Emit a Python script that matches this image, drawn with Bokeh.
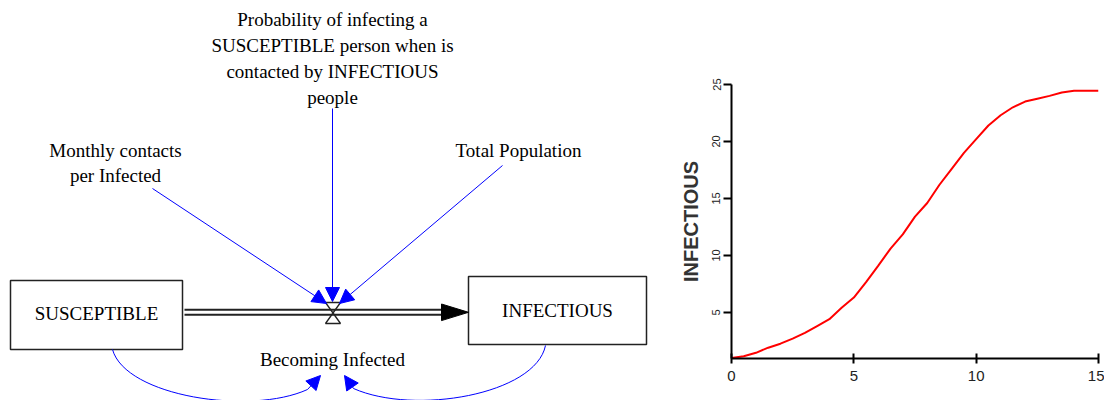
from bokeh.plotting import figure
from bokeh.models import Range1d, FixedTicker, Arrow, NormalHead, ColumnDataSource
from bokeh.layouts import row
from bokeh.embed import file_html
from bokeh.resources import INLINE
from bokeh.core.properties import value

# ---------------- data: simulated INFECTIOUS over months ----------------
months = [0, 0.5, 1, 1.5, 2, 2.5, 3, 3.5, 4, 4.5, 5, 5.5, 6, 6.5, 7, 7.5,
          8, 8.5, 9, 9.5, 10, 10.5, 11, 11.5, 12, 12.5, 13, 13.5, 14, 14.5, 15]
infectious = [1.0, 1.15, 1.45, 1.9, 2.25, 2.7, 3.2, 3.8, 4.4, 5.4, 6.3, 7.65,
              9.1, 10.6, 11.85, 13.4, 14.6, 16.2, 17.6, 19.0, 20.2, 21.4, 22.3,
              23.0, 23.5, 23.75, 24.0, 24.3, 24.45, 24.45, 24.45]
x_ticks = [0, 5, 10, 15]
y_ticks = [5, 10, 15, 20, 25]
y_title = "INFECTIOUS"

# ---------------- diagram texts ----------------
stock_names = ["SUSCEPTIBLE", "INFECTIOUS"]
flow_name = "Becoming Infected"
prob_lines = ["Probability of infecting a", "SUSCEPTIBLE person when is",
              "contacted by INFECTIOUS", "people"]
contacts_lines = ["Monthly contacts", "per Infected"]
population_name = "Total Population"

# ---------------- diagram layout (pixel positions) ----------------
stock_boxes = {"left": [10, 468], "right": [182, 646], "top": [280, 276], "bottom": [349, 344]}
stock_text_pos = {"x": [96, 557], "y": [313, 310]}
prob_pos = {"x": [332, 332, 332, 332], "y": [19, 45, 71, 97]}
contacts_pos = {"x": [115, 115], "y": [150, 175]}
population_pos = (518, 150)
flow_text_pos = (332, 359)
pipe = {"x0": 184, "x1": 441, "y": [309.3, 314.3]}
flow_head = {"tip": (468, 311.8), "base_x": 441, "half": 8.3}
valve = {"x": [325, 340, 325, 340, 325], "y": [302, 302, 323, 323, 302]}
links = [((332, 108), (332, 301)), ((152, 188), (326, 303)), ((502, 165), (339, 303))]
arcs = [
    dict(x0=112, y0=349, cx0=125, cy0=396, cx1=250, cy1=415, x1=307, y1=389, tip=(320, 375)),
    dict(x0=545, y0=345, cx0=535, cy0=394, cx1=414, cy1=415, x1=353, y1=388, tip=(344, 375)),
]

SERIF = "Liberation Serif"
BLUE = "#0000ff"
LEFT_W = 650

d = figure(width=LEFT_W, height=400, x_range=Range1d(0, LEFT_W), y_range=Range1d(400, 0),
           output_backend="svg", toolbar_location=None,
           x_axis_location=None, y_axis_location=None, min_border=0)
d.frame_align = False
d.outline_line_color = None
d.xgrid.visible = False
d.ygrid.visible = False

# stocks
d.quad(left=stock_boxes["left"], right=stock_boxes["right"], top=stock_boxes["top"],
       bottom=stock_boxes["bottom"], fill_color="white", line_color="#222222", line_width=1.5)
d.text(x=stock_text_pos["x"], y=stock_text_pos["y"], text=stock_names,
       text_font=value(SERIF), text_font_size="19px", text_align="center",
       text_baseline="middle", text_color="black")

# flow pipe
for yy in pipe["y"]:
    d.line([pipe["x0"], pipe["x1"]], [yy, yy], line_color="#222222", line_width=2)
tx, ty = flow_head["tip"]
d.patch([flow_head["base_x"], tx, flow_head["base_x"]],
        [ty - flow_head["half"], ty, ty + flow_head["half"]],
        fill_color="black", line_color="black")
d.line(valve["x"], valve["y"], line_color="#222222", line_width=1.3)
d.text(x=[flow_text_pos[0]], y=[flow_text_pos[1]], text=[flow_name],
       text_font=value(SERIF), text_font_size="19px", text_align="center",
       text_baseline="middle", text_color="black")

# auxiliaries
d.text(x=prob_pos["x"], y=prob_pos["y"], text=prob_lines,
       text_font=value(SERIF), text_font_size="19px", text_align="center",
       text_baseline="middle", text_color="black")
d.text(x=contacts_pos["x"], y=contacts_pos["y"], text=contacts_lines,
       text_font=value(SERIF), text_font_size="19px", text_align="center",
       text_baseline="middle", text_color="black")
d.text(x=[population_pos[0]], y=[population_pos[1]], text=[population_name],
       text_font=value(SERIF), text_font_size="19px", text_align="center",
       text_baseline="middle", text_color="black")

# connector links
for (sx, sy), (ex, ey) in links:
    d.add_layout(Arrow(end=NormalHead(size=14, fill_color=BLUE, line_color=BLUE, line_width=1),
                       x_start=sx, y_start=sy, x_end=ex, y_end=ey,
                       line_color=BLUE, line_width=1))
for a in arcs:
    d.bezier(x0=[a["x0"]], y0=[a["y0"]], x1=[a["x1"]], y1=[a["y1"]],
             cx0=[a["cx0"]], cy0=[a["cy0"]], cx1=[a["cx1"]], cy1=[a["cy1"]],
             line_color=BLUE, line_width=1)
    d.add_layout(Arrow(end=NormalHead(size=14, fill_color=BLUE, line_color=BLUE, line_width=1),
                       x_start=a["x1"], y_start=a["y1"], x_end=a["tip"][0], y_end=a["tip"][1],
                       line_color=BLUE, line_width=1))

# ---------------- right chart ----------------
src = ColumnDataSource(data=dict(month=months, infectious=infectious))
c = figure(width=1104 - LEFT_W, height=400, x_range=Range1d(0, 15), y_range=Range1d(0.95, 25),
           output_backend="svg", toolbar_location=None,
           min_border_left=731 - LEFT_W, min_border_right=6, min_border_top=84, min_border_bottom=42)
c.frame_align = False
c.outline_line_color = None
c.xgrid.visible = False
c.ygrid.visible = False
c.line("month", "infectious", source=src, line_color="#ff0000", line_width=2)

xa = c.xaxis[0]
ya = c.yaxis[0]
xa.ticker = FixedTicker(ticks=x_ticks)
ya.ticker = FixedTicker(ticks=y_ticks)
for ax in (xa, ya):
    ax.axis_line_width = 2
    ax.axis_line_color = "black"
    ax.major_tick_line_width = 2
    ax.major_tick_line_color = "black"
    ax.minor_tick_line_color = None
    ax.major_label_text_font = "Liberation Sans"
    ax.major_label_text_color = "#222222"
xa.major_tick_in = 5
xa.major_tick_out = 5
xa.major_label_text_font_size = "15px"
xa.major_label_standoff = 7
ya.major_tick_in = 0
ya.major_tick_out = 8
ya.major_label_text_font_size = "11px"
ya.major_label_orientation = "vertical"
ya.major_label_standoff = 3
ya.axis_label = y_title
ya.axis_label_text_font = "Liberation Sans"
ya.axis_label_text_font_style = "bold"
ya.axis_label_text_font_size = "20px"
ya.axis_label_text_color = "#333333"
ya.axis_label_standoff = 8

layout = row(d, c)
open("out.html", "w").write(file_html(layout, INLINE))
